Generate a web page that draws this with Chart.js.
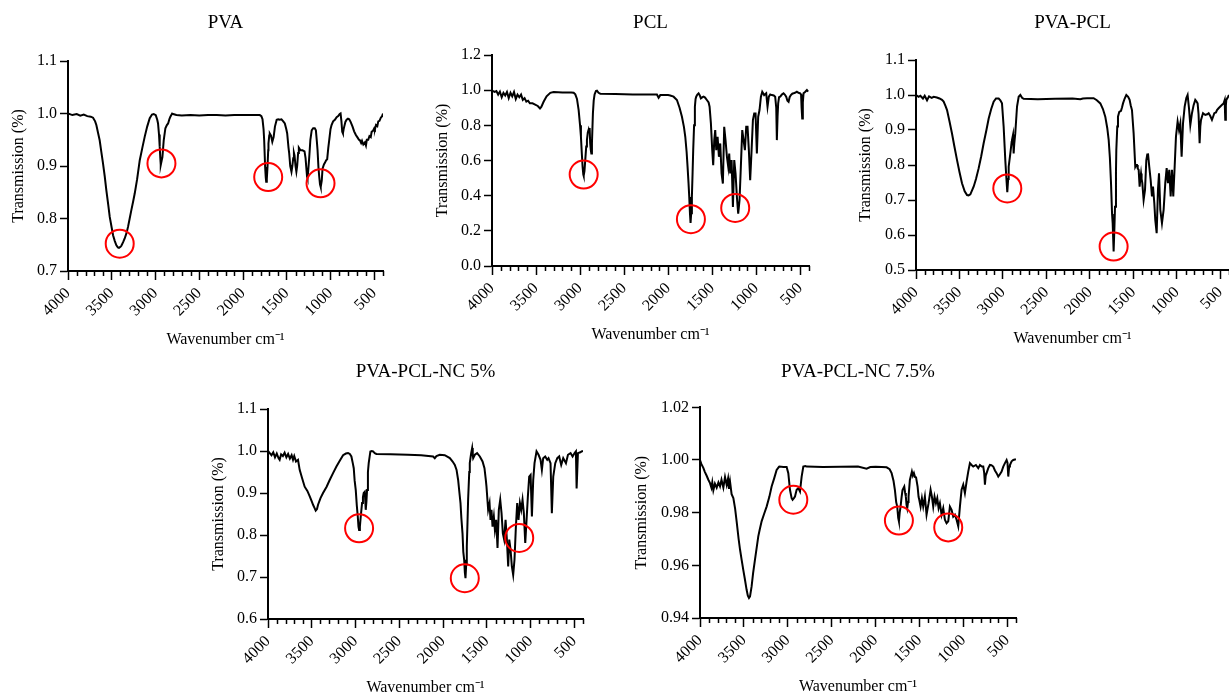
<!DOCTYPE html>
<html>
<head>
<meta charset="utf-8">
<title>FTIR spectra</title>
<script src="https://cdn.jsdelivr.net/npm/chart.js@4.4.1/dist/chart.umd.min.js"></script>
<style>
html, body { margin: 0; padding: 0; background: #fff; overflow: hidden; }
body { width: 1229px; height: 698px; position: relative; }
canvas { position: absolute; }
</style>
</head>
<body>
<canvas id="graph-pva"></canvas>
<canvas id="graph-pcl"></canvas>
<canvas id="graph-pvapcl"></canvas>
<canvas id="graph-nc5"></canvas>
<canvas id="graph-nc75"></canvas>
<script>
var titles = ["PVA", "PCL", "PVA-PCL", "PVA-PCL-NC 5%", "PVA-PCL-NC 7.5%"];
var xTicks = [4000, 3500, 3000, 2500, 2000, 1500, 1000, 500];
var yTickLabels = [
  ["0.7", "0.8", "0.9", "1.0", "1.1"],
  ["0.0", "0.2", "0.4", "0.6", "0.8", "1.0", "1.2"],
  ["0.5", "0.6", "0.7", "0.8", "0.9", "1.0", "1.1"],
  ["0.6", "0.7", "0.8", "0.9", "1.0", "1.1"],
  ["0.94", "0.96", "0.98", "1.00", "1.02"]
];

// PVA
var pvaWn = [4000, 3950, 3900, 3860, 3820, 3780, 3740, 3714, 3690, 3676, 3655, 3638, 3620, 3600, 3580, 3562, 3540, 3523, 3500, 3485,
  3465, 3447, 3430, 3417, 3400, 3390, 3370, 3352, 3330, 3314, 3295, 3276, 3255, 3237, 3210, 3180, 3150, 3123, 3095, 3066,
  3040, 3020, 2997, 2980, 2971, 2960, 2952, 2945, 2940, 2930, 2921, 2906, 2887, 2870, 2856, 2840, 2830, 2810, 2799, 2761,
  2700, 2600, 2500, 2400, 2300, 2200, 2100, 2000, 1900, 1808, 1790, 1777, 1765, 1758, 1747, 1740, 1735, 1728, 1720, 1712,
  1709, 1700, 1694, 1680, 1665, 1650, 1635, 1615, 1598, 1580, 1560, 1540, 1522, 1505, 1495, 1480, 1472, 1460, 1446, 1436,
  1426, 1418, 1411, 1400, 1390, 1381, 1370, 1362, 1343, 1320, 1297, 1285, 1278, 1268, 1263, 1255, 1243, 1230, 1215, 1198,
  1180, 1167, 1155, 1148, 1138, 1129, 1120, 1112, 1100, 1091, 1075, 1064, 1050, 1038, 1025, 1015, 1000, 988, 970, 950,
  930, 912, 895, 885, 875, 866, 858, 850, 843, 830, 816, 800, 786, 770, 748, 730, 710, 690, 675, 664,
  650, 640, 625, 607, 595, 585, 569, 555, 540, 530, 515, 500, 492, 480, 465, 454, 440, 425, 410, 400];
var pvaT = [1.000, 0.997, 0.999, 0.996, 0.998, 0.995, 0.994, 0.992, 0.985, 0.978, 0.962, 0.949, 0.928, 0.905, 0.880, 0.854, 0.826, 0.803, 0.782, 0.768,
  0.757, 0.749, 0.745, 0.744, 0.746, 0.748, 0.755, 0.762, 0.773, 0.784, 0.800, 0.816, 0.833, 0.848, 0.875, 0.911, 0.935, 0.956, 0.975, 0.991,
  0.998, 0.999, 0.997, 0.988, 0.981, 0.960, 0.937, 0.915, 0.902, 0.910, 0.917, 0.949, 0.972, 0.978, 0.981, 0.990, 0.994, 1.000, 0.999, 0.997,
  0.996, 0.997, 0.996, 0.997, 0.997, 0.996, 0.997, 0.997, 0.997, 0.997, 0.995, 0.989, 0.970, 0.949, 0.898, 0.878, 0.870, 0.875, 0.898, 0.930,
  0.943, 0.958, 0.962, 0.958, 0.946, 0.955, 0.975, 0.988, 0.989, 0.988, 0.989, 0.985, 0.981, 0.970, 0.962, 0.935, 0.924, 0.900, 0.889, 0.900,
  0.915, 0.925, 0.920, 0.900, 0.889, 0.900, 0.925, 0.935, 0.930, 0.930, 0.928, 0.915, 0.900, 0.880, 0.877, 0.890, 0.917, 0.950, 0.968, 0.972,
  0.972, 0.968, 0.945, 0.930, 0.898, 0.880, 0.865, 0.860, 0.872, 0.895, 0.903, 0.906, 0.911, 0.913, 0.935, 0.949, 0.970, 0.978, 0.985, 0.988,
  0.993, 0.995, 0.999, 1.000, 0.985, 0.965, 0.962, 0.970, 0.975, 0.984, 0.988, 0.990, 0.989, 0.984, 0.975, 0.966, 0.959, 0.954, 0.950, 0.949,
  0.944, 0.948, 0.941, 0.945, 0.939, 0.950, 0.950, 0.957, 0.955, 0.965, 0.967, 0.972, 0.970, 0.978, 0.976, 0.985, 0.986, 0.992, 0.995, 1.000];
var pvaMarkWn = [3409, 2932, 1712, 1114];
var pvaMarkT = [0.752, 0.905, 0.879, 0.867];

// PCL
var pclWn = [4000, 3970, 3950, 3930, 3910, 3890, 3870, 3850, 3830, 3810, 3790, 3770, 3750, 3730, 3710, 3690, 3670, 3650, 3630, 3610,
  3590, 3570, 3540, 3510, 3480, 3455, 3440, 3414, 3380, 3338, 3300, 3200, 3100, 3073, 3054, 3035, 3016, 3000, 2990, 2980,
  2971, 2963, 2959, 2950, 2941, 2930, 2922, 2912, 2903, 2897, 2891, 2885, 2878, 2872, 2865, 2854, 2845, 2835, 2820, 2808,
  2790, 2770, 2600, 2400, 2200, 2127, 2108, 2089, 2000, 1976, 1938, 1900, 1870, 1843, 1820, 1805, 1790, 1779, 1768, 1760,
  1752, 1745, 1738, 1730, 1722, 1715, 1705, 1696, 1688, 1681, 1668, 1654, 1640, 1628, 1610, 1597, 1580, 1560, 1540, 1529,
  1514, 1499, 1488, 1476, 1465, 1453, 1438, 1423, 1408, 1393, 1378, 1363, 1348, 1332, 1317, 1306, 1295, 1279, 1264, 1249,
  1234, 1219, 1204, 1189, 1174, 1158, 1143, 1128, 1113, 1098, 1083, 1068, 1052, 1037, 1022, 1007, 992, 977, 962, 946,
  931, 909, 886, 871, 856, 840, 822, 800, 784, 772, 765, 757, 750, 740, 727, 708, 689, 675, 659, 645,
  632, 620, 606, 590, 576, 560, 538, 520, 500, 490, 484, 477, 470, 462, 445, 424, 410];
var pclT = [0.997, 0.990, 0.995, 0.975, 0.992, 0.960, 0.985, 0.970, 0.990, 0.955, 0.985, 0.965, 0.990, 0.950, 0.975, 0.960, 0.975, 0.945, 0.955, 0.935,
  0.940, 0.925, 0.925, 0.918, 0.910, 0.896, 0.905, 0.934, 0.965, 0.985, 0.989, 0.987, 0.987, 0.985, 0.976, 0.950, 0.887, 0.800, 0.735, 0.640,
  0.564, 0.520, 0.513, 0.540, 0.602, 0.680, 0.716, 0.760, 0.775, 0.760, 0.785, 0.700, 0.660, 0.640, 0.700, 0.868, 0.940, 0.976, 0.995, 0.997,
  0.985, 0.980, 0.978, 0.976, 0.975, 0.975, 0.957, 0.972, 0.972, 0.970, 0.963, 0.944, 0.900, 0.849, 0.790, 0.735, 0.650, 0.564, 0.470, 0.393,
  0.300, 0.245, 0.300, 0.393, 0.530, 0.659, 0.800, 0.906, 0.950, 0.963, 0.975, 0.982, 0.970, 0.953, 0.960, 0.963, 0.958, 0.944, 0.930, 0.906,
  0.811, 0.659, 0.573, 0.716, 0.773, 0.659, 0.735, 0.621, 0.697, 0.526, 0.469, 0.792, 0.716, 0.621, 0.564, 0.640, 0.526, 0.602, 0.336, 0.602,
  0.526, 0.393, 0.298, 0.374, 0.564, 0.773, 0.716, 0.659, 0.792, 0.792, 0.659, 0.488, 0.659, 0.830, 0.868, 0.868, 0.640, 0.849, 0.887, 0.963,
  0.991, 0.972, 0.982, 0.906, 0.963, 0.975, 0.972, 0.970, 0.963, 0.900, 0.716, 0.850, 0.925, 0.960, 0.963, 0.975, 0.982, 0.975, 0.963, 0.940,
  0.934, 0.960, 0.972, 0.980, 0.982, 0.985, 0.991, 0.985, 0.982, 0.975, 0.900, 0.839, 0.930, 0.982, 0.990, 1.001, 0.992];
var pclMarkWn = [2959, 1741, 1238];
var pclMarkT = [0.520, 0.266, 0.330];

// PVA-PCL
var blendWn = [4000, 3970, 3950, 3920, 3900, 3873, 3850, 3820, 3797, 3760, 3730, 3701, 3682, 3660, 3643, 3615, 3586, 3560, 3528, 3500,
  3471, 3440, 3413, 3395, 3375, 3337, 3310, 3279, 3250, 3222, 3190, 3164, 3135, 3107, 3080, 3049, 3030, 3011, 2992, 2980,
  2973, 2960, 2950, 2940, 2934, 2915, 2900, 2896, 2884, 2877, 2870, 2858, 2838, 2819, 2800, 2780, 2762, 2600, 2400, 2200,
  2110, 2080, 2033, 1957, 1920, 1880, 1850, 1823, 1800, 1784, 1770, 1757, 1745, 1738, 1727, 1718, 1711, 1700, 1696, 1685,
  1677, 1662, 1642, 1630, 1619, 1600, 1581, 1560, 1543, 1530, 1516, 1497, 1478, 1468, 1458, 1450, 1439, 1428, 1420, 1412,
  1405, 1397, 1382, 1366, 1351, 1340, 1332, 1317, 1301, 1286, 1274, 1259, 1248, 1232, 1217, 1205, 1190, 1171, 1152, 1133,
  1117, 1102, 1087, 1071, 1056, 1041, 1025, 1010, 991, 975, 960, 945, 929, 910, 891, 876, 860, 845, 826, 807,
  788, 775, 761, 750, 738, 730, 722, 699, 673, 650, 634, 615, 596, 580, 569, 550, 538, 520, 500, 480,
  462, 450, 443, 436, 431, 410, 400];
var blendT = [1.000, 0.995, 0.998, 0.990, 0.998, 0.985, 0.996, 0.992, 0.995, 0.993, 0.990, 0.986, 0.981, 0.968, 0.957, 0.925, 0.890, 0.855, 0.814, 0.780,
  0.748, 0.725, 0.714, 0.713, 0.716, 0.738, 0.760, 0.791, 0.825, 0.862, 0.900, 0.933, 0.960, 0.981, 0.990, 0.990, 0.985, 0.976, 0.910, 0.850,
  0.814, 0.760, 0.722, 0.760, 0.795, 0.833, 0.866, 0.871, 0.886, 0.833, 0.860, 0.891, 0.967, 0.995, 1.000, 0.992, 0.989, 0.988, 0.989, 0.990,
  0.988, 0.990, 0.991, 0.991, 0.985, 0.976, 0.960, 0.938, 0.905, 0.872, 0.820, 0.748, 0.660, 0.634, 0.553, 0.620, 0.681, 0.780, 0.843, 0.910,
  0.938, 0.952, 0.955, 0.965, 0.976, 0.990, 1.000, 0.995, 0.986, 0.970, 0.957, 0.891, 0.795, 0.800, 0.800, 0.790, 0.786, 0.738, 0.760, 0.776,
  0.760, 0.748, 0.700, 0.729, 0.814, 0.830, 0.833, 0.795, 0.757, 0.710, 0.738, 0.691, 0.643, 0.605, 0.729, 0.776, 0.672, 0.634, 0.672, 0.748,
  0.791, 0.748, 0.786, 0.710, 0.786, 0.710, 0.795, 0.881, 0.924, 0.900, 0.919, 0.824, 0.919, 0.967, 0.991, 1.000, 0.962, 0.914, 0.948, 0.971,
  0.986, 0.982, 0.976, 0.945, 0.862, 0.910, 0.929, 0.948, 0.943, 0.945, 0.948, 0.940, 0.929, 0.940, 0.948, 0.950, 0.957, 0.962, 0.967, 0.972,
  0.976, 0.985, 0.929, 0.970, 0.986, 0.995, 1.000];
var blendMarkWn = [2950, 1727];
var blendMarkT = [0.733, 0.567];

// PVA-PCL-NC 5%
var nc5Wn = [4000, 3980, 3960, 3940, 3920, 3900, 3880, 3867, 3850, 3830, 3810, 3790, 3770, 3750, 3730, 3714, 3700, 3680, 3657, 3638,
  3610, 3581, 3550, 3523, 3500, 3485, 3470, 3455, 3440, 3428, 3400, 3371, 3330, 3295, 3255, 3218, 3180, 3142, 3110, 3085,
  3065, 3047, 3030, 3020, 3010, 2997, 2985, 2974, 2966, 2959, 2950, 2940, 2925, 2915, 2906, 2894, 2883, 2875, 2868, 2858,
  2849, 2830, 2815, 2799, 2780, 2761, 2600, 2400, 2250, 2113, 2094, 2075, 2037, 1980, 1922, 1890, 1865, 1845, 1827, 1812,
  1800, 1790, 1777, 1768, 1758, 1750, 1743, 1735, 1728, 1720, 1713, 1700, 1694, 1685, 1678, 1667, 1660, 1655, 1636, 1610,
  1579, 1548, 1526, 1510, 1503, 1484, 1468, 1457, 1446, 1434, 1419, 1407, 1392, 1377, 1362, 1346, 1331, 1316, 1301, 1285,
  1270, 1255, 1243, 1228, 1213, 1198, 1183, 1167, 1152, 1137, 1121, 1106, 1091, 1076, 1060, 1045, 1030, 1015, 999, 984,
  969, 954, 931, 908, 885, 870, 855, 832, 809, 794, 771, 756, 740, 717, 694, 672, 649, 626, 595, 572,
  542, 519, 496, 481, 473, 458, 430, 416, 400];
var nc5T = [1.000, 0.995, 0.990, 0.997, 0.985, 0.994, 0.983, 0.979, 0.992, 0.988, 0.996, 0.985, 0.993, 0.982, 0.990, 0.979, 0.988, 0.975, 0.979, 0.955,
  0.935, 0.915, 0.905, 0.892, 0.880, 0.872, 0.865, 0.858, 0.862, 0.872, 0.888, 0.900, 0.915, 0.931, 0.948, 0.963, 0.977, 0.990, 0.994, 0.995,
  0.993, 0.987, 0.970, 0.959, 0.930, 0.907, 0.870, 0.844, 0.820, 0.812, 0.820, 0.844, 0.876, 0.890, 0.900, 0.903, 0.860, 0.880, 0.907, 0.950,
  0.971, 0.999, 1.000, 0.999, 0.995, 0.993, 0.992, 0.991, 0.990, 0.987, 0.983, 0.988, 0.991, 0.990, 0.983, 0.975, 0.967, 0.955, 0.931, 0.900,
  0.876, 0.840, 0.804, 0.760, 0.741, 0.710, 0.697, 0.730, 0.773, 0.830, 0.884, 0.950, 0.971, 0.985, 0.995, 1.007, 0.990, 0.983, 0.991, 0.995,
  0.987, 0.975, 0.959, 0.930, 0.915, 0.860, 0.876, 0.836, 0.860, 0.820, 0.844, 0.812, 0.836, 0.769, 0.860, 0.884, 0.852, 0.804, 0.789, 0.836,
  0.789, 0.725, 0.789, 0.765, 0.725, 0.705, 0.741, 0.820, 0.876, 0.836, 0.876, 0.860, 0.884, 0.852, 0.781, 0.836, 0.892, 0.939, 0.943, 0.844,
  0.931, 0.971, 0.999, 0.991, 0.979, 0.955, 0.983, 0.987, 0.979, 0.983, 0.971, 0.852, 0.939, 0.971, 0.983, 0.987, 0.967, 0.983, 0.971, 0.991,
  0.995, 0.987, 0.995, 0.999, 0.911, 0.995, 0.997, 0.999, 1.000];
var nc5MarkWn = [2959, 1751, 1129];
var nc5MarkT = [0.816, 0.697, 0.793];

// PVA-PCL-NC 7.5%
var nc75Wn = [4000, 3985, 3962, 3945, 3924, 3905, 3886, 3870, 3860, 3848, 3830, 3810, 3790, 3772, 3755, 3734, 3715, 3696, 3680, 3670,
  3658, 3640, 3620, 3600, 3582, 3560, 3544, 3525, 3507, 3490, 3469, 3455, 3442, 3430, 3412, 3395, 3374, 3355, 3336, 3320,
  3298, 3270, 3241, 3210, 3184, 3155, 3127, 3100, 3089, 3050, 3013, 2994, 2975, 2956, 2945, 2930, 2918, 2899, 2880, 2861,
  2842, 2823, 2800, 2785, 2600, 2400, 2200, 2102, 2060, 2000, 1930, 1874, 1840, 1817, 1795, 1780, 1765, 1753, 1742, 1734,
  1725, 1715, 1703, 1693, 1673, 1663, 1655, 1647, 1639, 1630, 1624, 1609, 1586, 1575, 1563, 1550, 1540, 1521, 1510, 1502,
  1487, 1472, 1457, 1438, 1419, 1396, 1373, 1358, 1343, 1328, 1312, 1297, 1282, 1267, 1248, 1229, 1210, 1191, 1172, 1153,
  1134, 1115, 1096, 1077, 1058, 1039, 1020, 1001, 982, 963, 944, 925, 906, 887, 857, 830, 811, 790, 773, 762,
  754, 745, 735, 716, 697, 680, 659, 640, 621, 602, 585, 564, 545, 526, 507, 497, 488, 478, 469, 450,
  431, 401];
var nc75T = [1.0000, 0.9985, 0.9970, 0.9955, 0.9940, 0.9925, 0.9912, 0.9895, 0.9915, 0.9885, 0.9910, 0.9895, 0.9915, 0.9900, 0.9925, 0.9895, 0.9935, 0.9905, 0.9930, 0.9890,
  0.9918, 0.9870, 0.9855, 0.9815, 0.9765, 0.9700, 0.9660, 0.9620, 0.9583, 0.9550, 0.9507, 0.9485, 0.9476, 0.9482, 0.9520, 0.9570, 0.9621, 0.9665, 0.9710, 0.9735,
  0.9767, 0.9795, 0.9823, 0.9860, 0.9899, 0.9930, 0.9962, 0.9974, 0.9975, 0.9973, 0.9973, 0.9950, 0.9887, 0.9855, 0.9849, 0.9855, 0.9861, 0.9887, 0.9893, 0.9880,
  0.9937, 0.9975, 0.9977, 0.9975, 0.9973, 0.9974, 0.9975, 0.9967, 0.9973, 0.9974, 0.9973, 0.9972, 0.9965, 0.9950, 0.9920, 0.9887, 0.9840, 0.9823, 0.9780, 0.9767,
  0.9800, 0.9823, 0.9860, 0.9886, 0.9899, 0.9875, 0.9861, 0.9830, 0.9817, 0.9840, 0.9861, 0.9924, 0.9956, 0.9940, 0.9950, 0.9935, 0.9937, 0.9899, 0.9860, 0.9849,
  0.9823, 0.9855, 0.9823, 0.9861, 0.9792, 0.9836, 0.9887, 0.9861, 0.9823, 0.9861, 0.9836, 0.9855, 0.9817, 0.9836, 0.9792, 0.9817, 0.9773, 0.9760, 0.9767, 0.9823,
  0.9811, 0.9785, 0.9792, 0.9773, 0.9748, 0.9823, 0.9887, 0.9906, 0.9874, 0.9918, 0.9956, 0.9988, 0.9981, 0.9975, 0.9981, 0.9969, 0.9981, 0.9975, 0.9975, 0.9950,
  0.9906, 0.9940, 0.9950, 0.9969, 0.9981, 0.9980, 0.9975, 0.9960, 0.9950, 0.9937, 0.9945, 0.9956, 0.9975, 0.9988, 1.0000, 0.9990, 0.9937, 0.9975, 0.9981, 0.9995,
  1.0000, 1.0003];
var nc75MarkWn = [2937, 1734, 1172];
var nc75MarkT = [0.9849, 0.9770, 0.9744];

Chart.defaults.font.family = '"Liberation Serif", "Times New Roman", serif';
Chart.defaults.color = "#000";

var panels = [
  {id: "graph-pva", wn: pvaWn, t: pvaT, markWn: pvaMarkWn, markT: pvaMarkT, yMin: 0.7, yMax: 1.1, yStep: 0.1, left: 9, top: 10, w: 384, h: 339, yw: 59, pb: 26.2},
  {id: "graph-pcl", wn: pclWn, t: pclT, markWn: pclMarkWn, markT: pclMarkT, yMin: 0, yMax: 1.2, yStep: 0.2, left: 433, top: 10, w: 386, h: 334, yw: 59, pb: 20.2},
  {id: "graph-pvapcl", wn: blendWn, t: blendT, markWn: blendMarkWn, markT: blendMarkT, yMin: 0.5, yMax: 1.1, yStep: 0.1, left: 856, top: 10, w: 383, h: 338, yw: 60, pb: 25.2},
  {id: "graph-nc5", wn: nc5Wn, t: nc5T, markWn: nc5MarkWn, markT: nc5MarkT, yMin: 0.6, yMax: 1.1, yStep: 0.1, left: 209, top: 359, w: 384, h: 338, yw: 59, pb: 25.2},
  {id: "graph-nc75", wn: nc75Wn, t: nc75T, markWn: nc75MarkWn, markT: nc75MarkT, yMin: 0.94, yMax: 1.02, yStep: 0.02, left: 632, top: 359, w: 394, h: 337, yw: 68, pb: 23.5}
];

// short ticks every 100 cm-1 between the labelled ones
var minorTicks = {
  id: "minorTicks",
  afterDraw: function(chart) {
    var s = chart.scales.x;
    var ctx = chart.ctx;
    ctx.save();
    ctx.strokeStyle = "#000";
    ctx.lineWidth = 1.5;
    ctx.beginPath();
    s.ticks.forEach(function(t) {
      if (xTicks.indexOf(Math.round(t.value)) < 0) {
        var px = Math.round(s.getPixelForValue(t.value)) + 0.5;
        ctx.moveTo(px, s.top);
        ctx.lineTo(px, s.top + 5);
      }
    });
    ctx.stroke();
    ctx.restore();
  }
};

function points(xs, ys) {
  var out = [];
  for (var i = 0; i < xs.length; i++) {
    out.push({x: xs[i], y: ys[i]});
  }
  return out;
}

function drawGraph(k) {
  var p = panels[k];
  var canvas = document.getElementById(p.id);
  canvas.width = p.w;
  canvas.height = p.h;
  canvas.style.left = p.left + "px";
  canvas.style.top = p.top + "px";
  var labels = yTickLabels[k];

  new Chart(canvas, {
    type: "line",
    data: {
      datasets: [{
        data: points(p.wn, p.t),
        borderColor: "#000",
        borderWidth: 2,
        pointRadius: 0,
        tension: 0,
        order: 2
      }, {
        type: "scatter",
        data: points(p.markWn, p.markT),
        pointRadius: 14,
        pointHoverRadius: 14,
        pointBorderColor: "#ff0000",
        pointBackgroundColor: "rgba(0,0,0,0)",
        pointBorderWidth: 2,
        clip: false,
        order: 1
      }]
    },
    options: {
      responsive: false,
      animation: false,
      devicePixelRatio: 1,
      events: [],
      layout: {autoPadding: false, padding: {right: 10}},
      plugins: {
        legend: {display: false},
        tooltip: {enabled: false},
        title: {
          display: true,
          text: titles[k],
          fullSize: false,
          color: "#000",
          font: {size: 19, weight: "normal"},
          padding: {top: 2, bottom: p.pb}
        }
      },
      scales: {
        x: {
          type: "linear",
          reverse: true,
          min: 400,
          max: 4000,
          afterFit: function(s) {
            s.height = 78;
            s.paddingLeft = 0;
            s.paddingRight = 0;
          },
          border: {color: "#000", width: 2},
          grid: {
            drawOnChartArea: false,
            tickLength: 9,
            tickWidth: 1.5,
            tickColor: function(c) {
              return c.tick && xTicks.indexOf(Math.round(c.tick.value)) >= 0 ? "#000" : "rgba(0,0,0,0)";
            }
          },
          ticks: {
            stepSize: 100,
            autoSkip: false,
            minRotation: 45,
            maxRotation: 45,
            padding: 4,
            color: "#000",
            font: {size: 16},
            callback: function(v) {
              return xTicks.indexOf(Math.round(v)) >= 0 ? String(Math.round(v)) : "";
            }
          },
          title: {display: true, text: "Wavenumber cm⁻¹", color: "#000", font: {size: 16}, padding: 0}
        },
        y: {
          min: p.yMin,
          max: p.yMax,
          afterFit: function(s) { s.width = p.yw; },
          border: {color: "#000", width: 2},
          grid: {drawOnChartArea: false, tickLength: 8, tickWidth: 1.5, tickColor: "#000"},
          ticks: {
            stepSize: p.yStep,
            padding: 3,
            color: "#000",
            font: {size: 16},
            callback: function(v, i) { return labels[i]; }
          },
          title: {display: true, text: "Transmission (%)", color: "#000", font: {size: 16}, padding: 0}
        }
      }
    },
    plugins: [minorTicks]
  });
}

for (var k = 0; k < panels.length; k++) {
  drawGraph(k);
}
</script>
</body>
</html>
